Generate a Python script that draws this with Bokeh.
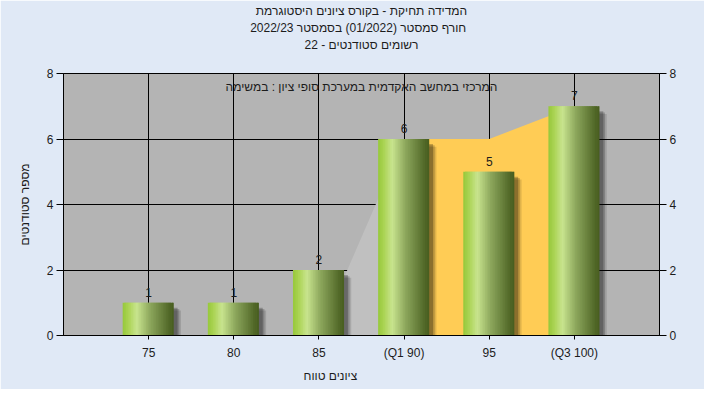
from bokeh.plotting import figure
from bokeh.models import (LinearAxis, FixedTicker, Range1d, Title)
from bokeh.core.properties import value
from bokeh.embed import file_html
from bokeh.resources import INLINE

# ---------------- data ----------------
categories = ["75", "80", "85", "(Q1 90)", "95", "(Q3 100)"]
counts = [1, 1, 2, 6, 5, 7]
band_values = [0, 0, 0, 6, 6, 7]          # quartile band (Q1..Q3 highlighted)
y_ticks = [0, 2, 4, 6, 8]

title_lines = [
    "היסטוגרמת ציונים בקורס - תחיקת המדידה",
    "בסמסטר  (01/2022)  סמסטר חורף 2022/23",
    "סטודנטים רשומים - 22",
]
subtitle = "במשימה : ציון סופי במערכת האקדמית במחשב המרכזי"
x_label = "טווח ציונים"
y_label = "מספר סטודנטים"

FONT = "Liberation Sans"
TXT = "#1c1c1c"


def vis(s):
    # the original chart lays the words out left-to-right; reorder so the
    # browser's bidi layout gives the same visual word order
    return " ".join(reversed(s.split(" ")))


xs = list(range(1, len(categories) + 1))

p = figure(width=704, height=389, output_backend="svg", toolbar_location=None,
           x_range=Range1d(0, len(categories) + 1), y_range=Range1d(0, 8),
           min_border_left=63, min_border_right=45, min_border_top=64,
           min_border_bottom=54)
p.title.visible = False
p.background_fill_color = "#B4B4B4"
p.border_fill_color = "#E0E9F6"
p.outline_line_color = "black"
p.outline_line_width = 1

# grid
p.xgrid.ticker = FixedTicker(ticks=xs)
p.ygrid.ticker = FixedTicker(ticks=y_ticks)
for g in (p.xgrid, p.ygrid):
    g.grid_line_color = "black"
    g.grid_line_width = 1

# axes
p.xaxis.ticker = FixedTicker(ticks=xs)
p.xaxis.major_label_overrides = {x: c for x, c in zip(xs, categories)}
p.yaxis.ticker = FixedTicker(ticks=y_ticks)
p.yaxis.axis_label = y_label
p.yaxis.axis_label_standoff = 12

right = LinearAxis(ticker=FixedTicker(ticks=y_ticks))
p.add_layout(right, "right")

for ax in (p.xaxis[0], p.yaxis[0], right):
    ax.axis_line_color = "black"
    ax.major_tick_line_color = "black"
    ax.minor_tick_line_color = None
    ax.major_tick_in = 0
    ax.major_label_text_font = FONT
    ax.major_label_text_font_size = "12px"
    ax.major_label_text_color = TXT
    ax.axis_label_text_font = FONT
    ax.axis_label_text_font_size = "12px"
    ax.axis_label_text_font_style = "normal"
    ax.axis_label_text_color = TXT
p.xaxis.major_tick_out = 4
p.xaxis.major_label_standoff = 6
p.yaxis.major_tick_out = 7
p.yaxis.major_label_standoff = 3
right.major_tick_out = 7
right.major_label_standoff = 3

# x-axis title (sits left of centre in the original)
p.add_layout(Title(text=vis(x_label), align="left", offset=240, standoff=8,
                   text_font=FONT, text_font_size="12px",
                   text_font_style="normal", text_color=TXT), "below")

# title lines as labels of tick-less axes above the plot (nearest first)
for line, so in zip(reversed(title_lines), [22, 0, 0]):
    t = LinearAxis(ticker=FixedTicker(ticks=[]), axis_label=vis(line),
                   axis_label_standoff=so, axis_line_color=None,
                   major_tick_line_color=None, minor_tick_line_color=None,
                   major_tick_out=0, major_tick_in=0, major_label_standoff=0,
                   axis_label_text_font=FONT, axis_label_text_font_size="12px",
                   axis_label_text_font_style="normal", axis_label_text_color=TXT)
    p.add_layout(t, "above")

# quartile band (area behind the bars)
p.varea(x=xs[2:4], y1=[0, 0], y2=band_values[2:4], fill_color="#C0C0C0")
p.varea(x=xs[3:], y1=[0] * len(xs[3:]), y2=band_values[3:], fill_color="#FFCC55")

# bars: shadow + cylinder-like gradient built from thin strips
W = 0.59
for dx, dy, a in [(0.085, 0.24, 0.12), (0.065, 0.19, 0.18), (0.045, 0.15, 0.24)]:
    p.vbar(x=[x + dx for x in xs], top=[c - dy for c in counts], bottom=0, width=W,
           fill_color="black", fill_alpha=a, line_color=None)

stops = [(0.0, (150, 200, 58)), (0.12, (172, 212, 86)), (0.28, (200, 228, 142)),
         (0.55, (140, 166, 92)), (1.0, (70, 92, 30))]


def grad(t):
    for (t0, c0), (t1, c1) in zip(stops[:-1], stops[1:]):
        if t0 <= t <= t1:
            f = (t - t0) / (t1 - t0)
            return "#%02x%02x%02x" % tuple(int(round(a + (b - a) * f)) for a, b in zip(c0, c1))
    return "#%02x%02x%02x" % stops[-1][1]


N = 30
sx, stop, scol, sw = [], [], [], []
for x, c in zip(xs, counts):
    for k in range(N):
        sx.append(x - W / 2 + (k + 0.5) * W / N)
        stop.append(c)
        scol.append(grad((k + 0.5) / N))
        sw.append(W / N * (2.0 if k < N - 1 else 1.0))
p.vbar(x=sx, top=stop, bottom=0, width=sw, fill_color=scol, line_color=None)

# value labels
p.text(x=xs, y=counts, text=[str(c) for c in counts], y_offset=-6,
       text_align="center", text_baseline="bottom", text_color=TXT,
       text_font=value(FONT), text_font_size="12px")

# subtitle inside the plot area
p.text(x=[3.5], y=[7.6], text=[vis(subtitle)], text_align="center",
       text_baseline="middle", text_font=value(FONT), text_font_size="12px",
       text_color=TXT)

open("out.html", "w").write(file_html(p, INLINE))
